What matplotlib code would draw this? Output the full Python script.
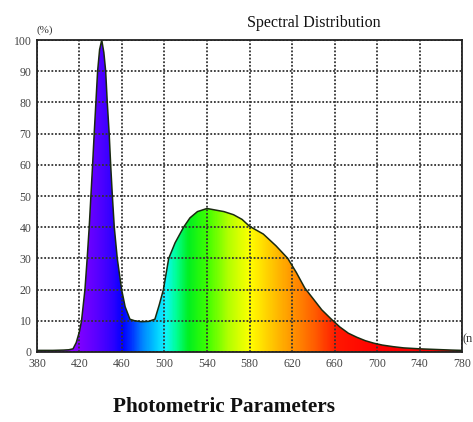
import numpy as np
import matplotlib
matplotlib.use('Agg')
import matplotlib.pyplot as plt
from matplotlib.colors import LinearSegmentedColormap

# Spectral power distribution (relative %, wavelength nm).
wavelength = [380, 395, 405, 410, 414, 417, 420, 422, 425.2, 427.3, 429.2,
              430.8, 432.4, 433.9, 435.5, 437.1, 439, 441, 443, 444.7, 446.2,
              448, 449.4, 451, 452.8, 455.6, 459.7, 463, 467.5, 472, 478,
              485, 491, 495, 499, 501.5, 504, 510, 518, 524, 531, 540, 548,
              556, 565, 573, 580, 593, 605, 616, 624, 632, 640, 648, 657, 665,
              673, 681, 689, 697, 705, 715, 725, 740, 755, 770, 780]
percent = [0.5, 0.5, 0.6, 0.7, 1.0, 3, 6.5, 10, 20, 30, 40,
           50, 60, 70, 80, 90, 97, 100, 96, 90, 80,
           70, 60, 50, 40, 30, 20, 14.5, 10.5, 10, 9.7,
           9.8, 10.5, 15, 20, 25, 30, 35, 40, 43, 45, 46, 45.5,
           45, 44, 42.5, 40.3, 37.8, 34, 30, 25.5, 20.5, 17, 13.5, 10.5, 8,
           6, 4.7, 3.6, 2.8, 2.2, 1.7, 1.3, 1.0, 0.8, 0.6, 0.5]

x_ticks = [380, 420, 460, 500, 540, 580, 620, 660, 700, 740, 780]
y_ticks = [0, 10, 20, 30, 40, 50, 60, 70, 80, 90, 100]

# rainbow colour stops for the fill
stop_wl = [380, 414, 428, 442, 452, 460, 468, 478, 490, 500, 510, 522, 540,
           560, 580, 600, 620, 642, 662, 700, 780]
stop_col = ['#8c00ff', '#8800ff', '#6c00ff', '#4800ff', '#2800ff', '#0000ff',
            '#0030ff', '#0080ff', '#00c4ff', '#10f4ff', '#00ff98', '#00f020',
            '#40ff00', '#b4ff00', '#ffff00', '#ffc800', '#ff9400', '#ff5a00',
            '#ff1800', '#ff0000', '#f00000']

serif = ['Liberation Serif', 'DejaVu Serif']

fig = plt.figure(figsize=(4.73, 4.22), dpi=100)
ax = fig.add_axes([0.078, 0.166, 0.899, 0.739])

pos = [(w - stop_wl[0]) / (stop_wl[-1] - stop_wl[0]) for w in stop_wl]
cmap = LinearSegmentedColormap.from_list('spec', list(zip(pos, stop_col)))
grad = np.linspace(0, 1, 800).reshape(1, -1)
img = ax.imshow(grad, cmap=cmap, aspect='auto', extent=[380, 780, 0, 100],
                zorder=1, interpolation='bilinear')
poly = ax.fill_between(wavelength, 0, percent, color='none', lw=0)
img.set_clip_path(poly.get_paths()[0], transform=ax.transData)
ax.plot(wavelength, percent, color='#1a2a10', lw=1.1, zorder=4)

ax.set_xlim(380, 780)
ax.set_ylim(0, 100)
ax.set_xticks(x_ticks)
ax.set_yticks(y_ticks)
ax.set_xticklabels([str(v) for v in x_ticks], fontsize=8.5, family=serif, color='#444444')
ax.set_yticklabels([str(v) for v in y_ticks], fontsize=8.5, family=serif, color='#444444')
ax.tick_params(axis='x', length=0, pad=4)
ax.tick_params(axis='y', length=0, pad=4)
ax.grid(True, color='#333333', lw=1.3, linestyle=(0, (1, 1)), zorder=3)
ax.set_axisbelow(False)
for s in ax.spines.values():
    s.set_color('#222222')
    s.set_linewidth(1.3)
    s.set_zorder(5)

fig.text(0.078, 0.922, '(%)', fontsize=8, family=serif, color='#333333', ha='left')
fig.text(0.9985, 0.19, '(n', fontsize=9, family=serif, color='#333333', ha='right')
fig.text(0.664, 0.945, 'Spectral Distribution', fontsize=11.5, family=serif,
         color='#111111', ha='center', va='center')
fig.text(0.474, 0.035, 'Photometric Parameters', fontsize=15.3, family=serif,
         weight='bold', color='#111111', ha='center', va='center')

fig.savefig('out.png', dpi=100)
